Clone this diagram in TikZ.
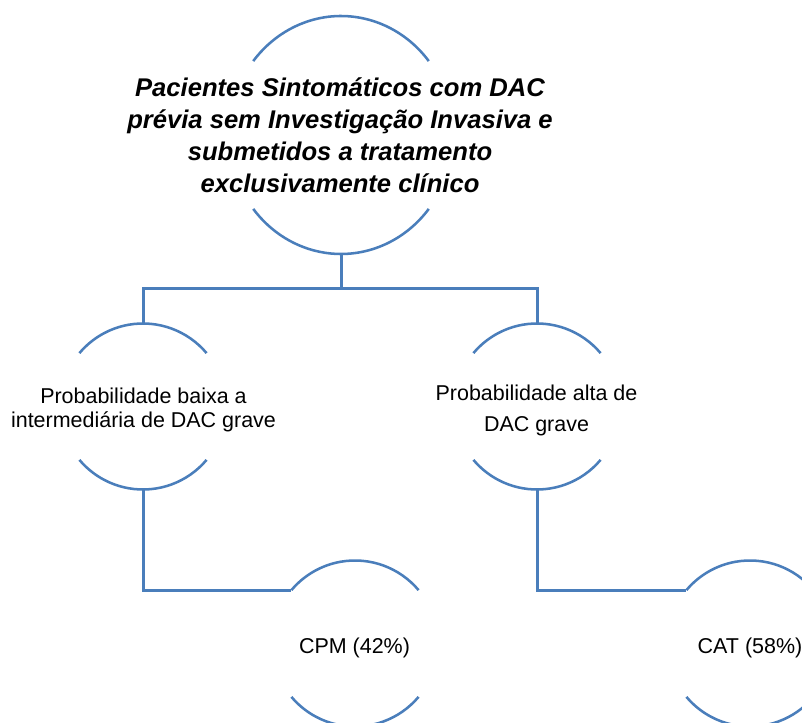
\documentclass[tikz,border=0pt]{standalone}
\usepackage{fontspec}
\setmainfont{Liberation Sans}
\usetikzlibrary{shapes.geometric}
\definecolor{linkblue}{HTML}{4A7EBB}
\begin{document}
\begin{tikzpicture}[x=0.75pt,y=0.75pt,
  conn/.style={draw=linkblue, line width=2.25pt},
  arcline/.style={draw=linkblue, line width=1.9pt},
  ring/.style={circle, draw=none, minimum size=124.5pt, inner sep=0pt, outer sep=0pt},
  lbl/.style={align=center, text=black, inner sep=0pt},
  bigfont/.style={font=\fontsize{19.2}{24}\selectfont\bfseries\itshape},
  smallfont/.style={font=\fontsize{16.1}{#1}\selectfont}]
\useasboundingbox (0,0) rectangle (802,722);

% outline shapes (only their upper and lower arcs are drawn)
\node[ellipse, draw=none, minimum width=168pt, minimum height=178.5pt,
      inner sep=0pt, outer sep=0pt] (top) at (341,587) {};
\node[ring] (ml) at (143,315.5) {};
\node[ring] (mr) at (537,315.5) {};
\node[ring] (bl) at (355,78.5) {};
\node[ring] (br) at (750,78.5) {};

\draw[arcline] ([shift={(38.4:84pt and 89.25pt)}]top.center)
  arc[start angle=38.4, end angle=141.6, x radius=84pt, y radius=89.25pt];
\draw[arcline] ([shift={(-38.4:84pt and 89.25pt)}]top.center)
  arc[start angle=-38.4, end angle=-141.6, x radius=84pt, y radius=89.25pt];
\foreach \n in {ml,mr,bl,br}{
  \draw[arcline] (\n.40) arc[start angle=40, end angle=140, radius=62.25pt];
  \draw[arcline] (\n.-40) arc[start angle=-40, end angle=-140, radius=62.25pt];
}

% connectors
\coordinate (bus) at (341,433);
\draw[conn] (top.south) -- (bus) -| (ml.north);
\draw[conn] (bus) -| (mr.north);
\draw[conn] (ml.south) |- (bl.140);
\draw[conn] (mr.south) |- (br.140);

% labels
\node[lbl, bigfont] (toptext) at (340,587)
  {Pacientes Sintomáticos com DAC\\prévia sem Investigação Invasiva e\\submetidos a tratamento\\exclusivamente clínico};
\node[lbl, smallfont=18] (mltext) at (143.5,312)
  {Probabilidade baixa a\\intermediária de DAC grave};
\node[lbl, smallfont=23.25] (mrtext) at (536.5,312)
  {Probabilidade alta de\\DAC grave};
\node[lbl, smallfont=19] (bltext) at (354.5,74) {CPM (42\%)};
\node[lbl, smallfont=19] (brtext) at (750,74) {CAT (58\%)};
\end{tikzpicture}
\end{document}
